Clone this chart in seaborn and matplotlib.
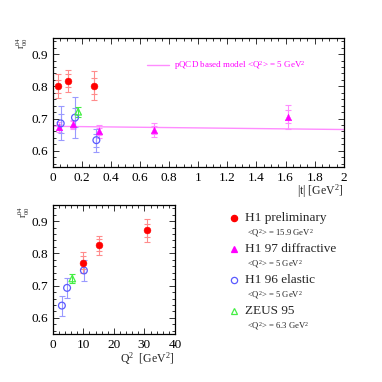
import numpy as np
import pandas as pd
import matplotlib.pyplot as plt
import seaborn as sns
from matplotlib.lines import Line2D
from matplotlib.ticker import MultipleLocator

# --- dados: r04_00 em funcao de |t| ---
t_h1prel = [0.034, 0.107, 0.283]
r_h1prel = [0.800, 0.817, 0.802]
e_h1prel_in = [0.020, 0.020, 0.025]
e_h1prel_out = [0.037, 0.034, 0.046]

t_h197 = [0.040, 0.137, 0.319, 0.696, 1.614]
r_h197 = [0.674, 0.682, 0.660, 0.664, 0.705]
e_h197_in = [0.010, 0.010, 0.012, 0.012, 0.020]
e_h197_out = [0.015, 0.015, 0.020, 0.022, 0.037]

t_h196 = [0.055, 0.153, 0.300]
r_h196 = [0.685, 0.703, 0.633]
e_h196_in = [0.030, 0.030, 0.020]
e_h196_out = [0.053, 0.064, 0.036]

t_zeus = [0.175]
r_zeus = [0.721]
e_zeus = [0.015]

t_model = [0.0, 2.0]
r_model = [0.676, 0.666]

# --- dados: r04_00 em funcao de Q2 ---
q_h196 = [3.0, 4.7, 10.2]
rq_h196 = [0.638, 0.693, 0.747]
eq_h196 = [0.031, 0.030, 0.032]

q_zeus = [6.4]
rq_zeus = [0.722]
eq_zeus = [0.015]

q_h1prel = [9.8, 15.1, 30.7]
rq_h1prel = [0.771, 0.825, 0.871]
eq_h1prel_in = [0.020, 0.018, 0.020]
eq_h1prel_out = [0.033, 0.030, 0.035]

RED, RED_L = '#ff0000', '#ff8c8c'
MAG, MAG_L = '#ff00ff', '#ff8cff'
BLUE, BLUE_L = '#5a5aff', '#9a9aff'
GREEN = '#44ee44'

sns.set_style('ticks')
plt.rcParams['font.family'] = ['Liberation Serif', 'DejaVu Serif']
plt.rcParams['mathtext.fontset'] = 'custom'
plt.rcParams['mathtext.rm'] = 'Liberation Serif'
plt.rcParams['mathtext.it'] = 'Liberation Serif:italic'

fig = plt.figure(figsize=(3.82, 3.82), dpi=100)
ax1 = fig.add_axes([0.138, 0.563, 0.762, 0.3377])
ax2 = fig.add_axes([0.138, 0.1257, 0.320, 0.3377])

S_C = 24  # tamanho dos circulos
S_T = 22  # tamanho dos triangulos


def barras(ax, x, y, e, cor):
    ax.errorbar(x, y, yerr=e, fmt='none', ecolor=cor, elinewidth=0.8,
                capsize=2.5, capthick=0.8, zorder=2)


# painel de cima
sns.lineplot(x=t_model, y=r_model, ax=ax1, color=MAG_L, lw=1.0, zorder=1)
barras(ax1, t_h1prel, r_h1prel, e_h1prel_out, RED_L)
barras(ax1, t_h1prel, r_h1prel, e_h1prel_in, RED_L)
barras(ax1, t_h197, r_h197, e_h197_out, MAG_L)
barras(ax1, t_h197, r_h197, e_h197_in, MAG_L)
barras(ax1, t_h196, r_h196, e_h196_out, BLUE_L)
barras(ax1, t_h196, r_h196, e_h196_in, BLUE_L)
barras(ax1, t_zeus, r_zeus, e_zeus, GREEN)
sns.scatterplot(x=t_h1prel, y=r_h1prel, ax=ax1, marker='o', s=S_C, color=RED,
                edgecolor=RED, zorder=3)
sns.scatterplot(x=t_h197, y=r_h197, ax=ax1, marker='^', s=S_T, color=MAG,
                edgecolor=MAG, zorder=3)
sns.scatterplot(x=t_h196, y=r_h196, ax=ax1, marker='o', s=S_C, facecolor='none',
                edgecolor=BLUE, linewidth=0.9, zorder=3)
sns.scatterplot(x=t_zeus, y=r_zeus, ax=ax1, marker='^', s=S_T, facecolor='none',
                edgecolor=GREEN, linewidth=0.9, zorder=3)

ax1.set_xlim(0, 2)
ax1.set_ylim(0.55, 0.95)
ax1.xaxis.set_minor_locator(MultipleLocator(0.05))
ax1.yaxis.set_major_locator(MultipleLocator(0.1))
ax1.yaxis.set_minor_locator(MultipleLocator(0.02))
ax1.set_xticks([0, 0.2, 0.4, 0.6, 0.8, 1, 1.2, 1.4, 1.6, 1.8, 2])
ax1.set_xticklabels(['0', '0.2', '0.4', '0.6', '0.8', '1', '1.2', '1.4', '1.6', '1.8', '2'])
ax1.text(1.0, -0.19, '|t| [GeV$^2$]', transform=ax1.transAxes, ha='right',
         va='center', fontsize=8.5)

# legenda do modelo
ax1.add_artist(Line2D([0.325, 0.40], [0.79, 0.79], color=MAG_L, lw=1.0,
                      transform=ax1.transAxes))
ax1.text(0.415, 0.79, 'pQCD based model <Q$^2$> = 5 GeV$^2$', color=MAG,
         transform=ax1.transAxes, va='center', fontsize=6.5)

# painel de baixo
barras(ax2, q_h196, rq_h196, eq_h196, BLUE_L)
barras(ax2, q_zeus, rq_zeus, eq_zeus, GREEN)
barras(ax2, q_h1prel, rq_h1prel, eq_h1prel_out, RED_L)
barras(ax2, q_h1prel, rq_h1prel, eq_h1prel_in, RED_L)
sns.scatterplot(x=q_h196, y=rq_h196, ax=ax2, marker='o', s=S_C, facecolor='none',
                edgecolor=BLUE, linewidth=0.9, zorder=3)
sns.scatterplot(x=q_zeus, y=rq_zeus, ax=ax2, marker='^', s=S_T, facecolor='none',
                edgecolor=GREEN, linewidth=0.9, zorder=3)
sns.scatterplot(x=q_h1prel, y=rq_h1prel, ax=ax2, marker='o', s=S_C, color=RED,
                edgecolor=RED, zorder=3)

ax2.set_xlim(0, 40)
ax2.set_ylim(0.55, 0.95)
ax2.xaxis.set_major_locator(MultipleLocator(10))
ax2.xaxis.set_minor_locator(MultipleLocator(2))
ax2.yaxis.set_major_locator(MultipleLocator(0.1))
ax2.yaxis.set_minor_locator(MultipleLocator(0.02))
ax2.text(1.0, -0.19, 'Q$^2$  [GeV$^2$]', transform=ax2.transAxes, ha='right',
         va='center', fontsize=8.5)

for ax in (ax1, ax2):
    ax.tick_params(which='both', direction='in', top=True, right=True,
                   labelsize=9.5, width=0.7, colors='#333333', labelcolor='black')
    ax.tick_params(which='major', length=4)
    ax.tick_params(which='minor', length=2)
    for s in ax.spines.values():
        s.set_linewidth(0.9)
        s.set_color('black')
    ax.set_xlabel('')
    ax.set_ylabel('')

fig.text(0.058, 0.887, 'r$^{04}_{00}$', rotation=90, ha='center', va='center', fontsize=7)
fig.text(0.063, 0.445, 'r$^{04}_{00}$', rotation=90, ha='center', va='center', fontsize=7)

# legenda manual do lado direito
entradas = [
    ('H1 preliminary', '<Q$^2$> = 15.9 GeV$^2$', 'o', RED, RED),
    ('H1 97 diffractive', '<Q$^2$> = 5 GeV$^2$', '^', MAG, MAG),
    ('H1 96 elastic', '<Q$^2$> = 5 GeV$^2$', 'o', 'none', BLUE),
    ('ZEUS 95', '<Q$^2$> = 6.3 GeV$^2$', '^', 'none', GREEN),
]
for i, (nome, sub, mk, fc, ec) in enumerate(entradas):
    y = 1 - (218 + 31 * i) / 382
    ys = 1 - (233 + 31 * i) / 382
    fig.add_artist(Line2D([234 / 382], [y], marker=mk, markersize=4.5,
                          markerfacecolor=fc, markeredgecolor=ec,
                          markeredgewidth=0.9, transform=fig.transFigure))
    fig.text(245 / 382, y, nome, va='center', fontsize=9.5)
    fig.text(247 / 382, ys, sub, va='center', fontsize=6.2)

plt.savefig('out.png', dpi=100)
